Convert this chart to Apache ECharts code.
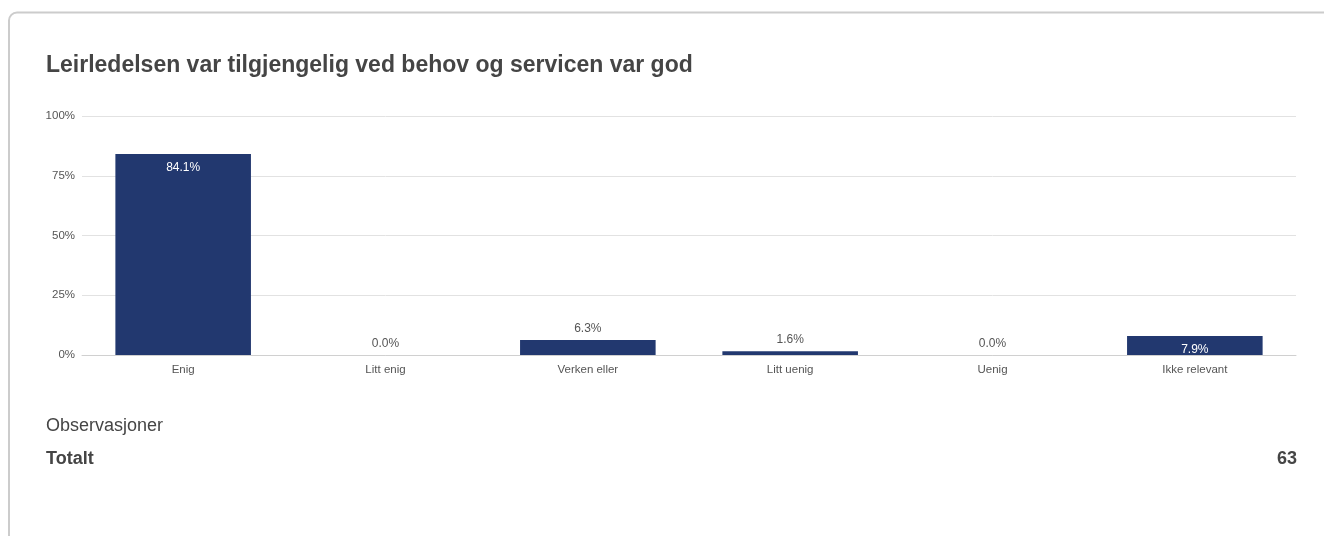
<!DOCTYPE html>
<html>
<head>
<meta charset="utf-8">
<script src="https://cdn.jsdelivr.net/npm/echarts@6/dist/echarts.min.js"></script>
<style>
  html, body { margin: 0; padding: 0; background: #fff; }
  #chart { width: 1324px; height: 536px; }
</style>
</head>
<body>
<div id="chart"></div>
<script>
// Survey answers for one statement, share of respondents (%)
const titleText = 'Leirledelsen var tilgjengelig ved behov og servicen var god';
const categories = ['Enig', 'Litt enig', 'Verken eller', 'Litt uenig', 'Uenig', 'Ikke relevant'];
const shares = [84.1, 0.0, 6.3, 1.6, 0.0, 7.9];
// Labels drawn inside the bar (white) for these categories
const insideLabel = [true, false, false, false, false, true];
const yTicks = [0, 25, 50, 75, 100];
const observationsLabel = 'Observasjoner';
const totalLabel = 'Totalt';
const totalCount = 63;

const font = '"Liberation Sans", Arial, Helvetica, sans-serif';
const barColor = '#22386f';

const chart = echarts.init(document.getElementById('chart'), null, { renderer: 'canvas' });

const seriesData = shares.map((v, i) => ({
  value: v,
  label: insideLabel[i]
    ? { show: true, position: 'insideTop', distance: 8, color: '#ffffff' }
    : { show: true, position: 'top', distance: 5, color: '#555555' }
}));

chart.setOption({
  animation: false,
  backgroundColor: '#ffffff',
  textStyle: { fontFamily: font },
  title: {
    text: titleText,
    left: 41,
    top: 49,
    textStyle: { fontFamily: font, fontSize: 23, fontWeight: 'bold', color: '#454545' }
  },
  grid: { left: 82, right: 28, top: 116, bottom: 181, containLabel: false },
  xAxis: {
    type: 'category',
    data: categories,
    axisLine: { show: true, lineStyle: { color: '#d0d0d0', width: 1 } },
    axisTick: { show: false },
    axisLabel: { color: '#555555', fontSize: 11.5, margin: 9, fontFamily: font }
  },
  yAxis: {
    type: 'value',
    min: yTicks[0],
    max: yTicks[yTicks.length - 1],
    interval: 25,
    axisLine: { show: false },
    axisTick: { show: false },
    splitLine: { lineStyle: { color: '#e2e2e2', width: 1 } },
    axisLabel: { color: '#555555', fontSize: 11.5, margin: 7, fontFamily: font, formatter: '{value}%' }
  },
  series: [{
    type: 'bar',
    data: seriesData,
    barWidth: '67%',
    itemStyle: { color: barColor },
    label: {
      show: true,
      fontSize: 12,
      fontFamily: font,
      formatter: p => p.value.toFixed(1) + '%'
    }
  }],
  graphic: [
    {
      type: 'rect',
      shape: { x: 9, y: 12.5, width: 1400, height: 600, r: 8 },
      style: { fill: 'none', stroke: '#cccccc', lineWidth: 2 },
      silent: true,
      z: 100
    },
    {
      type: 'text',
      left: 46, top: 417,
      style: { text: observationsLabel, font: '18px ' + font, fill: '#454545' }
    },
    {
      type: 'text',
      left: 46, top: 450,
      style: { text: totalLabel, font: 'bold 18px ' + font, fill: '#454545' }
    },
    {
      type: 'text',
      right: 27, top: 450,
      style: { text: String(totalCount), font: 'bold 18px ' + font, fill: '#454545', align: 'right' }
    }
  ]
});
</script>
</body>
</html>
